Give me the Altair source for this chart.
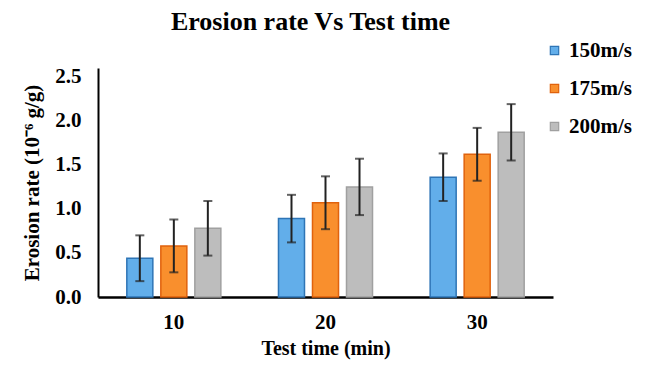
import altair as alt
import pandas as pd

times = ["10", "20", "30"]
speeds = ["150m/s", "175m/s", "200m/s"]
rate_150 = [0.44, 0.89, 1.36]
rate_175 = [0.58, 1.07, 1.62]
rate_200 = [0.78, 1.25, 1.87]
err_150 = [0.26, 0.27, 0.27]
err_175 = [0.30, 0.30, 0.30]
err_200 = [0.31, 0.32, 0.32]

colors = ["#62AEEA", "#F98F2D", "#BDBDBD"]
strokes = ["#2E75B6", "#E0620D", "#A0A0A0"]

rows = []
for s, vals, errs in zip(speeds, [rate_150, rate_175, rate_200], [err_150, err_175, err_200]):
    for t, v, e in zip(times, vals, errs):
        rows.append({"time": t, "speed": s, "rate": v, "lo": v - e, "hi": v + e})
df = pd.DataFrame(rows)

FONT = "Liberation Serif"

x = alt.X("time:N", sort=times,
          scale=alt.Scale(paddingInner=0.38, paddingOuter=0.19),
          axis=alt.Axis(title="Test time (min)", labelAngle=0, ticks=False,
                        labelPadding=14, titlePadding=6, domainColor="black",
                        domainWidth=2.5, labelFontSize=21, titleFontSize=20))
xo = alt.XOffset("speed:N", sort=speeds,
                 scale=alt.Scale(paddingInner=0.235, paddingOuter=0))

base = alt.Chart(df)

bars = base.mark_bar(strokeWidth=1.5).encode(
    x=x,
    xOffset=xo,
    y=alt.Y("rate:Q", scale=alt.Scale(domain=[0, 2.5]),
            axis=alt.Axis(title="Erosion rate (10⁻⁶ g/g)", values=[0, 0.5, 1.0, 1.5, 2.0, 2.5],
                          format=".1f", ticks=False, grid=False, labelPadding=17,
                          titlePadding=12, domainColor="black", domainWidth=2,
                          labelFontSize=21, titleFontSize=21)),
    color=alt.Color("speed:N", sort=speeds,
                    scale=alt.Scale(domain=speeds, range=colors),
                    legend=alt.Legend(title=None, orient="none", legendX=446, legendY=-28,
                                      symbolType="square", symbolSize=70,
                                      symbolStrokeWidth=1.2,
                                      labelFontSize=21, labelOffset=4, rowPadding=16)),
    stroke=alt.Stroke("speed:N", sort=speeds,
                      scale=alt.Scale(domain=speeds, range=strokes), legend=None),
)

rules = base.mark_rule(color="#222222", strokeWidth=2).encode(
    x=alt.X("time:N", sort=times),
    xOffset=alt.XOffset("speed:N", sort=speeds),
    y="lo:Q",
    y2="hi:Q",
)

caps_hi = base.mark_tick(color="#222222", thickness=2, size=9).encode(
    x=alt.X("time:N", sort=times),
    xOffset=alt.XOffset("speed:N", sort=speeds),
    y="hi:Q",
)
caps_lo = base.mark_tick(color="#222222", thickness=2, size=9).encode(
    x=alt.X("time:N", sort=times),
    xOffset=alt.XOffset("speed:N", sort=speeds),
    y="lo:Q",
)

chart = alt.layer(bars, rules, caps_hi, caps_lo).properties(
    width=455,
    height=229,
    autosize=alt.AutoSizeParams(type="none"),
    padding={"left": 90, "top": 60, "right": 85, "bottom": 66},
    title=alt.TitleParams("Erosion rate Vs Test time", fontSize=26, font=FONT,
                          fontWeight="bold", anchor="middle", dx=-15, offset=5,
                          color="black"),
).configure_view(stroke=None).configure_axis(
    labelFont=FONT, titleFont=FONT, labelFontWeight="bold", titleFontWeight="bold",
    labelColor="black", titleColor="black", grid=False
).configure_legend(labelFont=FONT, labelFontWeight="bold", labelColor="black")

chart.save("out.html", embed_options={"renderer": "svg", "actions": False})
